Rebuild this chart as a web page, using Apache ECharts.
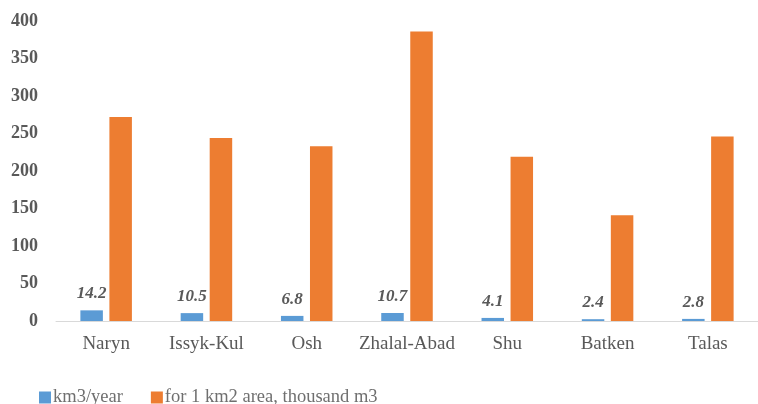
<!DOCTYPE html>
<html>
<head>
<meta charset="utf-8">
<script src="https://cdn.jsdelivr.net/npm/echarts@6/dist/echarts.min.js"></script>
<style>html,body{margin:0;padding:0;background:#fff}#c{width:758px;height:404px}</style>
</head>
<body>
<div id="c"></div>
<script>
var categories = ['Naryn', 'Issyk-Kul', 'Osh', 'Zhalal-Abad', 'Shu', 'Batken', 'Talas'];
var flowKm3 = [14.2, 10.5, 6.8, 10.7, 4.1, 2.4, 2.8];
var perKm2 = [272, 244, 233, 386, 219, 141, 246];
var seriesNames = ['km3/year', 'for 1 km2 area, thousand m3'];

var font = '"Liberation Serif", "Times New Roman", serif';
var chart = echarts.init(document.getElementById('c'), null, {renderer: 'canvas'});
chart.setOption({
  animation: false,
  textStyle: {fontFamily: font},
  grid: {left: 56, top: 21, width: 711, height: 300},
  legend: {
    left: 34, top: 383,
    itemWidth: 12, itemHeight: 12, itemGap: 28,
    icon: 'rect',
    textStyle: {fontFamily: font, fontSize: 18.5, color: '#6f6f6f', padding: [0, 0, 0, -3]},
    data: seriesNames
  },
  xAxis: {
    type: 'category',
    data: categories,
    axisTick: {show: false},
    axisLine: {lineStyle: {color: '#d9d9d9', width: 1}},
    axisLabel: {interval: 0, fontFamily: font, fontSize: 19, color: '#595959', margin: 14}
  },
  yAxis: {
    type: 'value',
    min: 0, max: 400, interval: 50,
    axisLine: {show: false},
    axisTick: {show: false},
    splitLine: {show: false},
    axisLabel: {fontFamily: font, fontSize: 18, fontWeight: 'bold', color: '#595959', margin: 18}
  },
  series: [
    {
      name: seriesNames[0], type: 'bar', data: flowKm3,
      barWidth: 22.5, barGap: '29%',
      itemStyle: {color: '#5B9BD5'},
      label: {show: true, position: 'top', distance: 8, fontFamily: font, fontSize: 17,
              fontWeight: 'bold', fontStyle: 'italic', color: '#595959'}
    },
    {
      name: seriesNames[1], type: 'bar', data: perKm2,
      barWidth: 22.5, barGap: '29%',
      itemStyle: {color: '#ED7D31'}
    }
  ]
});
</script>
</body>
</html>
